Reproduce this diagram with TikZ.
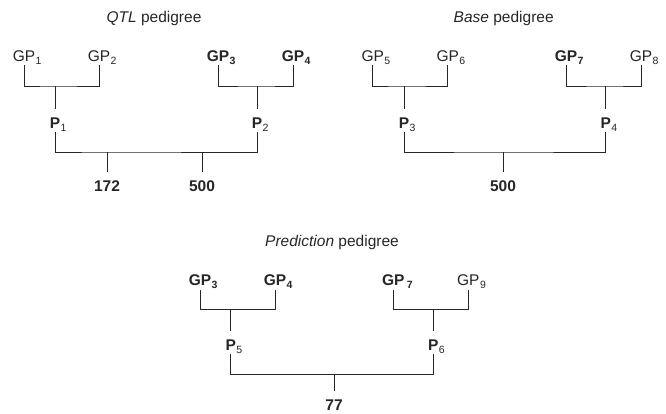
\documentclass[tikz,border=0pt]{standalone}
\usepackage{fontspec}
\setmainfont{Liberation Sans}
\usetikzlibrary{calc}
\newcommand{\gpidx}[1]{\rlap{\kern0.5pt\raisebox{-3pt}{\fontsize{10.5}{10.5}\selectfont #1}}}

\begin{document}
\begin{tikzpicture}
[x=1pt,y=-1pt, line width=0.9pt, color=black!85,
lbl/.style={anchor=base,inner xsep=0pt,inner ysep=4pt,text height=15pt,text depth=0pt,font=\fontsize{15.5}{17}\selectfont},
ttl/.style={anchor=base,inner sep=0pt,font=\fontsize{15.5}{17}\selectfont}]
\useasboundingbox (0,0) rectangle (666,413);

\node (tqtl) at (154,22.5)[ttl] {\textit{QTL} pedigree};
\node (tbase) at (503.7,22.5)[ttl] {\textit{Base} pedigree};
\node (tpred) at (332,246)[ttl] {\textit{Prediction} pedigree};

\node (gpa1) at (24,61)[lbl] {GP\gpidx{1}};
\node (gpa2) at (99,61)[lbl] {GP\gpidx{2}};
\node (gpa3) at (218,61)[lbl] {\bfseries GP\gpidx{3}};
\node (gpa4) at (293,61)[lbl] {\bfseries GP\gpidx{4}};
\node (p1) at (55,128)[lbl] {\bfseries P\gpidx{\mdseries 1}};
\node (p2) at (257,128)[lbl] {\bfseries P\gpidx{\mdseries 2}};
\node (n172) at (107,191)[lbl] {\bfseries 172};
\node (n500a) at (202,191)[lbl] {\bfseries 500};

\node (gpb5) at (372.7,61)[lbl] {GP\gpidx{5}};
\node (gpb6) at (447.7,61)[lbl] {GP\gpidx{6}};
\node (gpb7) at (566,61)[lbl] {\bfseries GP\gpidx{7}};
\node (gpb8) at (641,61)[lbl] {GP\gpidx{8}};
\node (p3) at (404,128)[lbl] {\bfseries P\gpidx{\mdseries 3}};
\node (p4) at (605.7,128)[lbl] {\bfseries P\gpidx{\mdseries 4}};
\node (n500b) at (503,191)[lbl] {\bfseries 500};

\node (gpc3) at (200,285.5)[lbl] {\bfseries GP\gpidx{3}};
\node (gpc4) at (275,285.5)[lbl] {\bfseries GP\gpidx{4}};
\node (gpc7) at (393.3,285.5)[lbl] {\bfseries GP\gpidx{\,7}};
\node (gpc9) at (468.3,285.5)[lbl] {GP\gpidx{9}};
\node (p5) at (230.7,350)[lbl] {\bfseries P\gpidx{\mdseries 5}};
\node (p6) at (433.3,350)[lbl] {\bfseries P\gpidx{\mdseries 6}};
\node (n77) at (334,410.5)[lbl] {\bfseries 77};

\coordinate (ja1) at (55,86);
\coordinate (ja2) at (257,86);
\coordinate (ka1) at (107,152);
\coordinate (ka2) at (202,152);
\coordinate (jb1) at (404,86);
\coordinate (jb2) at (605.7,86);
\coordinate (kb) at (503,152);
\coordinate (jc1) at (230.7,309.3);
\coordinate (jc2) at (433.3,309.3);
\coordinate (kc) at (334,374.3);

\draw (gpa1.south) |- (ja1) -| (gpa2.south);
\draw (gpa3.south) |- (ja2) -| (gpa4.south);
\draw (ja1) -- (p1.north);
\draw (ja2) -- (p2.north);
\draw (p1.south) |- (ka1) -| (p2.south);
\draw (ka1) -- (n172.north);
\draw (ka2) -- (n500a.north);

\draw (gpb5.south) |- (jb1) -| (gpb6.south);
\draw (gpb7.south) |- (jb2) -| (gpb8.south);
\draw (jb1) -- (p3.north);
\draw (jb2) -- (p4.north);
\draw (p3.south) |- (kb) -| (p4.south);
\draw (kb) -- (n500b.north);

\draw (gpc3.south) |- (jc1) -| (gpc4.south);
\draw (gpc7.south) |- (jc2) -| (gpc9.south);
\draw (jc1) -- (p5.north);
\draw (jc2) -- (p6.north);
\draw (p5.south) |- (kc) -| (p6.south);
\draw (kc) -- (n77.north);
\end{tikzpicture}
\end{document}
